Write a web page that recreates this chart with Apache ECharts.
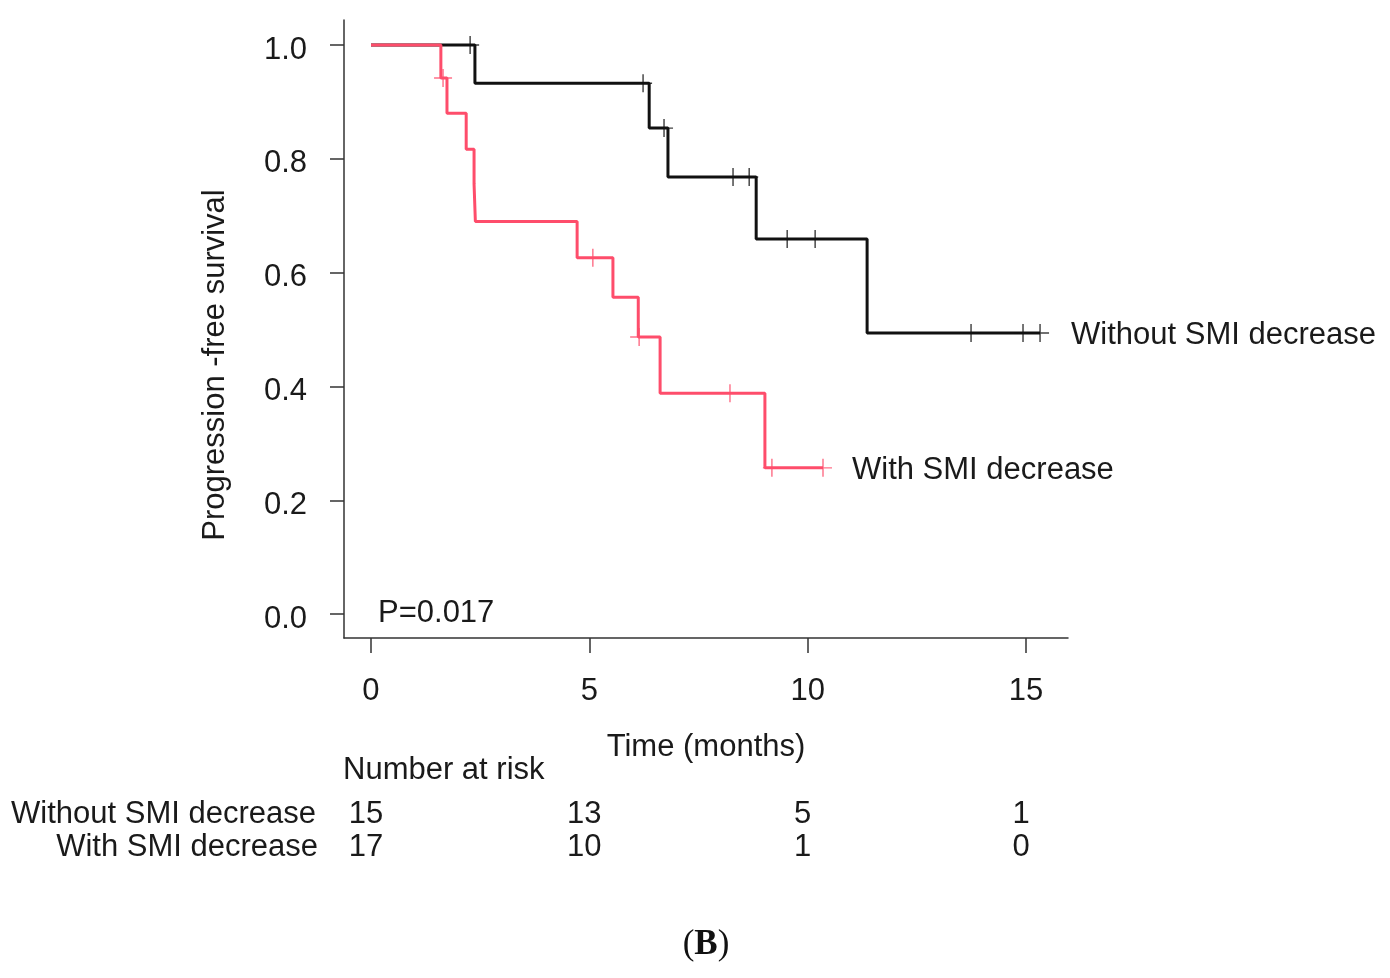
<!doctype html>
<html lang="en">
<head>
<meta charset="utf-8" />
<title>Progression-free survival</title>
<script src="https://cdn.jsdelivr.net/npm/echarts@6.0.0/dist/echarts.min.js"></script>
<style>
  html, body { margin: 0; padding: 0; background: #fff; }
  #chart { width: 1390px; height: 978px; }
</style>
</head>
<body>
<div id="chart"></div>
<script>
  // Kaplan-Meier steps (months, survival)
  const withoutTimes = [0, 2.38, 6.37, 6.80, 8.82, 11.36, 15.32];
  const withoutSurv = [1.0, 0.933, 0.854, 0.768, 0.659, 0.494, 0.494];
  const withoutCensorT = [2.27, 6.23, 6.71, 8.29, 8.66, 9.53, 10.17, 13.74, 14.93, 15.32];
  const withoutCensorS = [1.0, 0.933, 0.854, 0.768, 0.768, 0.659, 0.659, 0.494, 0.494, 0.494];

  const withTimes = [0, 1.60, 1.74, 2.18, 2.36, 2.39, 4.72, 5.54, 6.12, 6.62, 9.02, 10.35];
  const withSurv = [1.0, 0.942, 0.880, 0.817, 0.756, 0.690, 0.626, 0.557, 0.487, 0.388, 0.257, 0.257];
  const withCensorT = [1.65, 5.08, 6.14, 8.22, 9.18, 10.35];
  const withCensorS = [0.942, 0.626, 0.487, 0.388, 0.257, 0.257];

  const xTicks = [0, 5, 10, 15];
  const yTicks = [0, 0.2, 0.4, 0.6, 0.8, 1.0];
  const riskTimes = [0, 5, 10, 15];
  const riskWithout = [15, 13, 5, 1];
  const riskWith = [17, 10, 1, 0];

  const font = "'Liberation Sans', Arial, sans-serif";
  const red = '#fe4d6b';
  const plus = 'path://M9.2,0h1.6v20h-1.6zM0,9.2h20v1.6h-20z';

  let zip = (a, b) => a.map((v, i) => [v, b[i]]);

  let chart = echarts.init(document.getElementById('chart'));

  let option = {
    animation: false,
    backgroundColor: '#fff',
    grid: { left: 344, top: 20, width: 724, height: 618 },
    xAxis: {
      type: 'value',
      min: -0.618,
      max: 15.96,
      splitLine: { show: false },
      axisLine: { show: true, onZero: false, lineStyle: { color: '#333', width: 1.5 } },
      axisTick: { show: true, customValues: xTicks, length: 15, lineStyle: { color: '#333', width: 1.5 } },
      axisLabel: {
        customValues: xTicks, margin: 38,
        fontFamily: font, fontSize: 31, color: '#1a1a1a'
      }
    },
    yAxis: {
      type: 'value',
      min: -0.042,
      max: 1.044,
      splitLine: { show: false },
      axisLine: { show: true, onZero: false, lineStyle: { color: '#333', width: 1.5 } },
      axisTick: { show: true, customValues: yTicks, length: 14, lineStyle: { color: '#333', width: 1.5 } },
      axisLabel: {
        customValues: yTicks, margin: 37,
        fontFamily: font, fontSize: 31, color: '#1a1a1a',
        verticalAlign: 'top',
        lineHeight: 10,
        formatter: v => v.toFixed(1)
      }
    },
    series: [
      {
        name: 'Without SMI decrease',
        type: 'line',
        step: 'end',
        showSymbol: false,
        data: zip(withoutTimes, withoutSurv),
        lineStyle: { color: '#111', width: 3 },
        z: 2
      },
      {
        type: 'scatter',
        data: zip(withoutCensorT, withoutCensorS),
        symbol: plus,
        symbolSize: 18,
        itemStyle: { color: '#111' },
        z: 3
      },
      {
        name: 'With SMI decrease',
        type: 'line',
        step: 'end',
        showSymbol: false,
        data: zip(withTimes, withSurv),
        lineStyle: { color: red, width: 3 },
        z: 4
      },
      {
        type: 'scatter',
        data: zip(withCensorT, withCensorS),
        symbol: plus,
        symbolSize: 18,
        itemStyle: { color: red },
        z: 5
      }
    ]
  };

  chart.setOption(option);

  let txt = function (text, x, y, align, extra) {
    return Object.assign({
      type: 'text',
      style: {
        text: text, x: x, y: y,
        font: '31px ' + font,
        fill: '#1a1a1a',
        textAlign: align,
        textVerticalAlign: 'middle'
      }
    }, extra || {});
  };

  let graphics = [
    txt('Without SMI decrease', 1071, 335, 'left'),
    txt('With SMI decrease', 852, 470, 'left'),
    txt('P=0.017', 378, 613, 'left'),
    txt('Progression -free survival', 0, 0, 'center', { x: 215, y: 365, rotation: Math.PI / 2 }),
    txt('Time (months)', 706, 747, 'center'),
    txt('Number at risk', 343, 770, 'left'),
    txt('Without SMI decrease', 316, 814, 'right'),
    txt('With SMI decrease', 318, 847, 'right'),
    {
      type: 'text',
      style: {
        text: '{a|(}{b|B}{a|)}',
        x: 706, y: 945,
        textAlign: 'center',
        textVerticalAlign: 'middle',
        rich: {
          a: { font: "35px 'Liberation Serif', 'Times New Roman', serif", fill: '#111' },
          b: { font: "bold 35px 'Liberation Serif', 'Times New Roman', serif", fill: '#111' }
        }
      }
    }
  ];

  for (let i = 0; i < riskTimes.length; i++) {
    let px = chart.convertToPixel({ xAxisIndex: 0 }, riskTimes[i]) - 5;
    graphics.push(txt(String(riskWithout[i]), px, 814, 'center'));
    graphics.push(txt(String(riskWith[i]), px, 847, 'center'));
  }

  chart.setOption({ graphic: graphics });
</script>
</body>
</html>
